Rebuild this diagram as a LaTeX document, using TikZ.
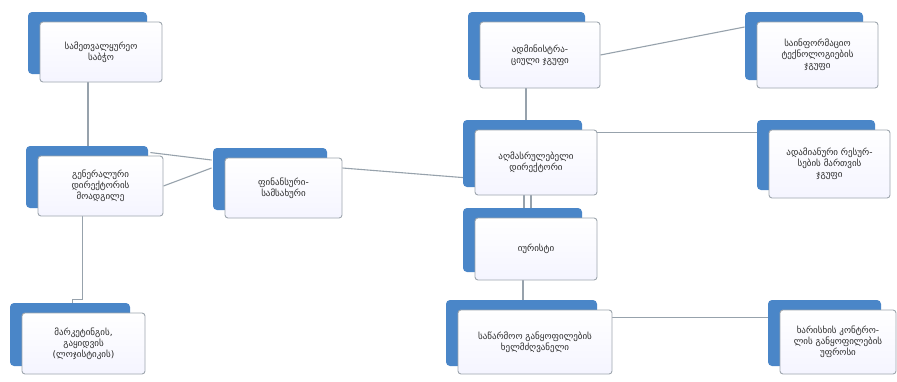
\documentclass[tikz,border=0pt]{standalone}
\usepackage{fontspec}
\setmainfont{DejaVu Sans}
\usetikzlibrary{backgrounds}
\definecolor{backblue}{HTML}{4A86C8}
\definecolor{cardline}{HTML}{9EA6AE}
\definecolor{connline}{HTML}{97A2AC}
\definecolor{cardtext}{HTML}{2A2A2A}
\tikzset{
  card/.style={draw=cardline, line width=0.9pt, rounded corners=3pt,
    top color=white, bottom color=white!96!blue, text=cardtext,
    font=\fontsize{9}{11}\selectfont, align=center, inner sep=2pt},
  backcard/.style={fill=backblue, rounded corners=4pt},
  conn/.style={draw=connline, line width=1.1pt}
}
\newcommand{\mycard}[6]{%
  \fill[backcard] ({#2-#4/2-12},{#3-#5/2-10}) rectangle ({#2+#4/2-15},{#3+#5/2-8});
  \node[card, minimum width=#4pt, minimum height=#5pt] (#1) at (#2,#3) {#6};
}
\begin{document}
\begin{tikzpicture}[x=1pt,y=-1pt]
\useasboundingbox (0,0) rectangle (897,381);

\mycard{n1}{101}{52}{122}{60}{სამეთვალყურეო\\საბჭო}
\mycard{n2}{100.5}{186}{125}{60}{გენერალური\\დირექტორის\\მოადგილე}
\mycard{n3}{283.5}{188}{117}{60}{ფინანსური-\\სამსახური}
\mycard{n4}{83.5}{343.5}{123}{61}{მარკეტინგის,\\გაყიდვის\\(ლოჯისტიკის)}
\mycard{n5}{540}{55}{120}{66}{ადმინისტრა-\\ციული ჯგუფი}
\mycard{n6}{817.5}{55}{121}{66}{საინფორმაციო\\ტექნოლოგიების\\ჯგუფი}
\mycard{n7}{536}{162.5}{122}{65}{აღმასრულებელი\\დირექტორი}
\mycard{n8}{829.5}{164}{121}{68}{ადამიანური რესურ-\\სების მართვის\\ჯგუფი}
\mycard{n9}{536}{249}{122}{62}{იურისტი}
\mycard{n10}{535}{342}{154}{64}{საწარმოო განყოფილების\\ხელმძღვანელი}
\mycard{n11}{838}{342}{116}{64}{ხარისხის კონტრო-\\ლის განყოფილების\\უფროსი}

\begin{pgfonlayer}{background}
\fill[white] (0,0) rectangle (897,381);
\draw[conn] ([xshift=-13pt]n1.south) -- ([xshift=-13pt]n1.south |- n2.north);
\draw[conn] ([xshift=-13pt,yshift=3pt]n2.north east) -- ([xshift=-13pt,yshift=28pt]n3.west);
\draw[conn] (n2.east) -- ([xshift=-13pt,yshift=20pt]n3.west);
\draw[conn] ([xshift=-18pt]n2.south) |- ([xshift=-11pt,yshift=13pt]n4.north) -- ([xshift=-11pt]n4.north);
\draw[conn] ([yshift=20pt]n3.east) -- ([yshift=-16pt]n7.west);
\draw[conn] ([xshift=-14pt]n5.south) -- ([xshift=-14pt]n5.south |- n7.north);
\draw[conn] (n5.east) -- ([xshift=-12pt,yshift=28pt]n6.west);
\draw[conn] ([yshift=-3pt]n7.north east) -- ([xshift=-12pt,yshift=-3pt]n8.north west);
\draw[conn] ([xshift=-12pt]n7.south) -- ([xshift=-12pt]n7.south |- n9.north);
\draw[conn] ([xshift=-5pt]n7.south) -- ([xshift=-5pt]n7.south |- n9.north);
\draw[conn] ([xshift=-13pt]n9.south) -- ([xshift=-13pt]n9.south |- n10.north);
\draw[conn] ([yshift=-8pt]n10.north east) -- ([xshift=-12pt,yshift=-8pt]n11.north west);
\end{pgfonlayer}
\end{tikzpicture}
\end{document}
